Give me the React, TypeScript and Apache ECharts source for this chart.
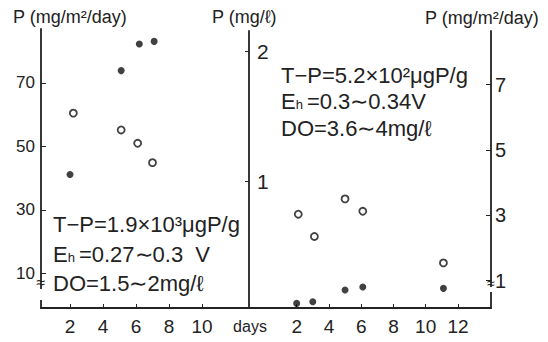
import React, { useEffect, useRef } from "react";
import * as echarts from "echarts";

// Left panel (P mg/m²/day, left axis)
const leftFilled: [number, number][] = [
  [2.0, 41.2],
  [5.1, 73.9],
  [6.2, 82.3],
  [7.1, 83.1],
];
const leftOpen: [number, number][] = [
  [2.2, 60.5],
  [5.1, 55.2],
  [6.1, 51.0],
  [7.0, 44.9],
];
// Right panel (P mg/m²/day, right axis)
const rightOpen: [number, number][] = [
  [2.1, 3.03],
  [3.1, 2.35],
  [5.0, 3.5],
  [6.1, 3.12],
  [11.1, 1.54],
];
const rightFilled: [number, number][] = [
  [2.0, 0.3],
  [3.0, 0.35],
  [5.0, 0.71],
  [6.1, 0.8],
  [11.1, 0.76],
];

const leftXTicks = [2, 4, 6, 8, 10];
const rightXTicks = [2, 4, 6, 8, 10, 12];
const leftYTicks = [10, 30, 50, 70];
const midYTicks = [1, 2];
const rightYTicks = [1, 3, 5, 7];

const FONT = "'Liberation Sans', Arial, sans-serif";
const INK = "#222";

export default function App() {
  const ref = useRef<HTMLDivElement>(null);
  useEffect(() => {
    if (!ref.current) return;
    const chart = echarts.init(ref.current, undefined, { renderer: "svg" });
    const axisLine = { show: true, onZero: false, lineStyle: { color: INK, width: 1.8 } };
    const filledStyle = { color: "#111" };
    const openStyle = { color: "#fff", borderColor: "#111", borderWidth: 1.8 };
    const rich = {
      sub: { fontSize: 13, fontFamily: FONT, color: INK, padding: [7, 4, 0, 0] },
    };
    chart.setOption({
      animation: false,
      backgroundColor: "#fff",
      grid: [
        { left: 41, top: 29, width: 208, height: 279 },
        { left: 249, top: 31, width: 242, height: 277 },
      ],
      xAxis: [
        {
          type: "value",
          gridIndex: 0,
          min: 0.24,
          max: 12.85,
          axisLine,
          splitLine: { show: false },
          axisTick: { show: true, inside: true, length: 4, customValues: leftXTicks, lineStyle: { color: INK } },
          axisLabel: { customValues: leftXTicks, fontSize: 19, color: INK, fontFamily: FONT, margin: 9 },
        },
        {
          type: "value",
          gridIndex: 1,
          min: -0.955,
          max: 14.05,
          axisLine,
          splitLine: { show: false },
          axisTick: { show: true, inside: true, length: 4, customValues: rightXTicks, lineStyle: { color: INK } },
          axisLabel: { customValues: rightXTicks, fontSize: 19, color: INK, fontFamily: FONT, margin: 9 },
        },
      ],
      yAxis: [
        {
          type: "value",
          gridIndex: 0,
          position: "left",
          min: -0.87,
          max: 87.0,
          axisLine,
          splitLine: { show: false },
          axisTick: { show: true, inside: true, length: 5, customValues: leftYTicks, lineStyle: { color: INK } },
          axisLabel: { customValues: leftYTicks, fontSize: 17, color: INK, fontFamily: FONT, margin: 6 },
        },
        {
          type: "value",
          gridIndex: 1,
          position: "right",
          min: 0.159,
          max: 8.64,
          axisLine,
          splitLine: { show: false },
          axisTick: { show: true, inside: true, length: 5, customValues: rightYTicks, lineStyle: { color: INK } },
          axisLabel: { customValues: rightYTicks, fontSize: 20, color: INK, fontFamily: FONT, margin: 4 },
        },
        {
          type: "value",
          gridIndex: 1,
          position: "left",
          min: 0.023,
          max: 2.154,
          axisLine,
          splitLine: { show: false },
          axisTick: { show: true, length: 4, customValues: midYTicks, lineStyle: { color: INK } },
          axisLabel: { inside: true, customValues: midYTicks, fontSize: 21, color: INK, fontFamily: FONT, margin: 8 },
        },
      ],
      series: [
        { type: "scatter", xAxisIndex: 0, yAxisIndex: 0, data: leftFilled, symbol: "circle", symbolSize: 7, itemStyle: filledStyle },
        { type: "scatter", xAxisIndex: 0, yAxisIndex: 0, data: leftOpen, symbol: "circle", symbolSize: 7, itemStyle: openStyle },
        { type: "scatter", xAxisIndex: 1, yAxisIndex: 1, data: rightOpen, symbol: "circle", symbolSize: 7, itemStyle: openStyle },
        { type: "scatter", xAxisIndex: 1, yAxisIndex: 1, data: rightFilled, symbol: "circle", symbolSize: 7, itemStyle: filledStyle },
      ],
      graphic: [
        { type: "text", x: 13, y: 17, style: { text: "P (mg/m²/day)", font: `18px ${FONT}`, fill: INK, verticalAlign: "middle" } },
        { type: "text", x: 212, y: 17, style: { text: "P (mg/ℓ)", font: `18px ${FONT}`, fill: INK, verticalAlign: "middle" } },
        { type: "text", x: 425, y: 18, style: { text: "P (mg/m²/day)", font: `18px ${FONT}`, fill: INK, verticalAlign: "middle" } },
        { type: "text", x: 250, y: 326, style: { text: "days", font: `16px ${FONT}`, fill: INK, align: "center", verticalAlign: "middle" } },
        // right-panel notes
        { type: "text", x: 281, y: 75, style: { text: "T−P=5.2×10²μgP/g", font: `22px ${FONT}`, fill: INK, verticalAlign: "middle" } },
        { type: "text", x: 281, y: 101, style: { text: "E{sub|h}=0.3∼0.34V", font: `22px ${FONT}`, fill: INK, verticalAlign: "middle", rich } },
        { type: "text", x: 281, y: 128, style: { text: "DO=3.6∼4mg/ℓ", font: `22px ${FONT}`, fill: INK, verticalAlign: "middle" } },
        // left-panel notes
        { type: "text", x: 53, y: 224, style: { text: "T−P=1.9×10³μgP/g", font: `22px ${FONT}`, fill: INK, verticalAlign: "middle" } },
        { type: "text", x: 53, y: 254, style: { text: "E{sub|h}=0.27∼0.3  V", font: `22px ${FONT}`, fill: INK, verticalAlign: "middle", rich } },
        { type: "text", x: 53, y: 283, style: { text: "DO=1.5∼2mg/ℓ", font: `22px ${FONT}`, fill: INK, verticalAlign: "middle" } },
        // axis breaks
        { type: "rect", shape: { x: 37, y: 289, width: 8, height: 11 }, style: { fill: "#fff" }, z: 100 },
        { type: "text", x: 41, y: 282, z: 101, style: { text: "≈", font: `16px ${FONT}`, fill: INK, align: "center", verticalAlign: "middle" } },
        { type: "rect", shape: { x: 487, y: 287, width: 8, height: 5 }, style: { fill: "#fff" }, z: 100 },
        { type: "text", x: 491, y: 283, z: 101, style: { text: "≈", font: `14px ${FONT}`, fill: INK, align: "center", verticalAlign: "middle" } },
      ],
    });
    return () => chart.dispose();
  }, []);
  return <div ref={ref} style={{ position: "absolute", left: 0, top: 0, width: 548, height: 342 }} />;
}
